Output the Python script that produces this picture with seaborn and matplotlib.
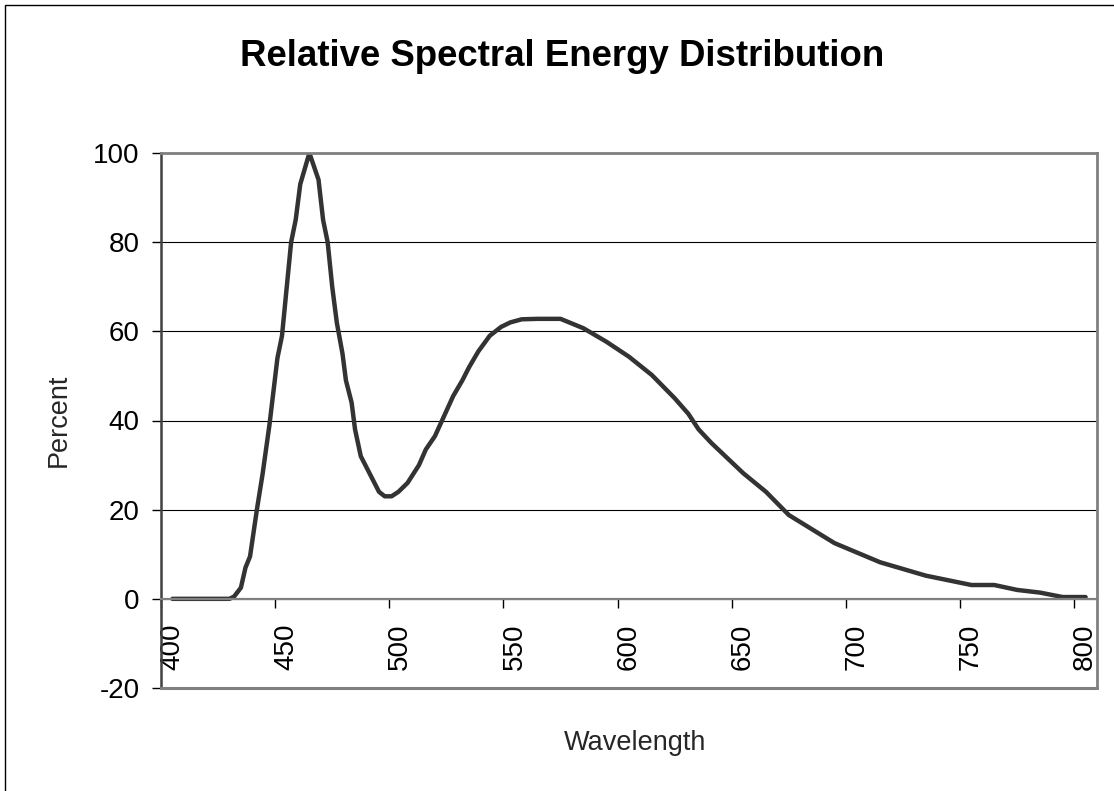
import matplotlib
matplotlib.use("Agg")
import matplotlib.pyplot as plt
import matplotlib.transforms as mtransforms
from matplotlib.patches import Rectangle
import seaborn as sns
import pandas as pd

C_LINE = "#333333"
C_FRAME = "#808080"
C_TEXT = "#000000"

wavelength = [405, 410, 415, 420, 425, 430, 432, 435, 437, 439, 442, 444.5, 447.5,
              451, 453, 457, 459, 461, 465, 469, 471, 473, 475, 477, 479.5, 481,
              483.5, 485, 487.5, 492, 495.5, 498, 501, 504, 508, 513, 516, 520,
              524, 528, 532, 535, 539, 544, 549, 553, 558, 565, 575, 585, 595,
              605, 615, 625, 631, 635.5, 641, 655, 665, 675, 695, 715, 735, 755,
              765, 775, 785, 795, 805]
percent = [0, 0, 0, 0, 0, 0, 0.5, 2.5, 7, 9.5, 20, 28, 39,
           54, 59, 80, 85, 93, 100, 94, 85, 80, 70, 62, 55, 49,
           44, 38, 32, 27.5, 24, 23, 23, 24, 26, 30, 33.5, 36.5,
           41, 45.5, 49, 52, 55.5, 59, 61, 62, 62.7, 62.8, 62.8, 60.7, 57.7,
           54.3, 50.2, 45, 41.5, 38, 35, 28.2, 24, 18.8, 12.5, 8.2, 5.2, 3.1,
           3.1, 2.0, 1.4, 0.4, 0.4]
x_ticks = [400, 450, 500, 550, 600, 650, 700, 750, 800]
y_ticks = [-20, 0, 20, 40, 60, 80, 100]


def draw_chart():
    df = pd.DataFrame({"Wavelength": wavelength, "Percent": percent})

    sns.set_theme(style="white")
    plt.rcParams["font.family"] = ["Liberation Sans", "DejaVu Sans"]
    plt.rcParams["axes.unicode_minus"] = False
    plt.rcParams["text.color"] = C_TEXT
    plt.rcParams["xtick.color"] = C_TEXT
    plt.rcParams["ytick.color"] = C_TEXT

    fig = plt.figure(figsize=(11.14, 7.91), dpi=100)
    ax = fig.add_axes([161 / 1114, 1 - 688 / 791, 936 / 1114, 535 / 791])

    ax.grid(axis="y", color="black", linewidth=0.8)
    ax.set_axisbelow(True)

    sns.lineplot(data=df, x="Wavelength", y="Percent", sort=False,
                 estimator=None, color=C_LINE, linewidth=3.2, ax=ax)

    ax.set_xlim(400, 810)
    ax.set_ylim(-20, 100)
    ax.set_xticks(x_ticks)
    ax.set_yticks(y_ticks)

    # x axis crosses at 0, like the spreadsheet original
    ax.spines["bottom"].set_position(("data", 0))
    ax.spines["bottom"].set_color(C_FRAME)
    ax.spines["bottom"].set_linewidth(1.6)
    ax.axhline(-20, color=C_FRAME, linewidth=2.2, clip_on=False, zorder=3)
    for side in ["top", "right"]:
        ax.spines[side].set_color(C_FRAME)
        ax.spines[side].set_linewidth(2)
    ax.spines["left"].set_color("#404040")
    ax.spines["left"].set_linewidth(1.8)

    ax.tick_params(axis="x", direction="out", length=6.5, width=1, pad=11,
                   labelsize=20, labelrotation=90, bottom=True, colors=C_TEXT)
    ax.tick_params(axis="y", direction="out", length=6.5, width=1, pad=9,
                   labelsize=20, left=True, colors=C_TEXT)

    offset = mtransforms.ScaledTranslation(11 / 100, 0, fig.dpi_scale_trans)
    for lbl in ax.get_xticklabels():
        lbl.set_transform(lbl.get_transform() + offset)

    ax.set_xlabel("Wavelength", fontsize=19.5)
    ax.set_ylabel("Percent", fontsize=19.5)
    ax.xaxis.set_label_coords(0.507, -0.078)
    ax.yaxis.set_label_coords(-0.095, 0.5)

    fig.text(562 / 1114, 1 - 57 / 791, "Relative Spectral Energy Distribution",
             ha="center", va="center", fontsize=26.4, weight="bold")

    fig.patches.append(Rectangle((5 / 1114, -0.05), 1.2, 1.05 - 5 / 791,
                                 transform=fig.transFigure, fill=False,
                                 edgecolor="black", linewidth=1))

    fig.savefig("out.png", dpi=100)
    plt.close(fig)


if __name__ == "__main__":
    draw_chart()
